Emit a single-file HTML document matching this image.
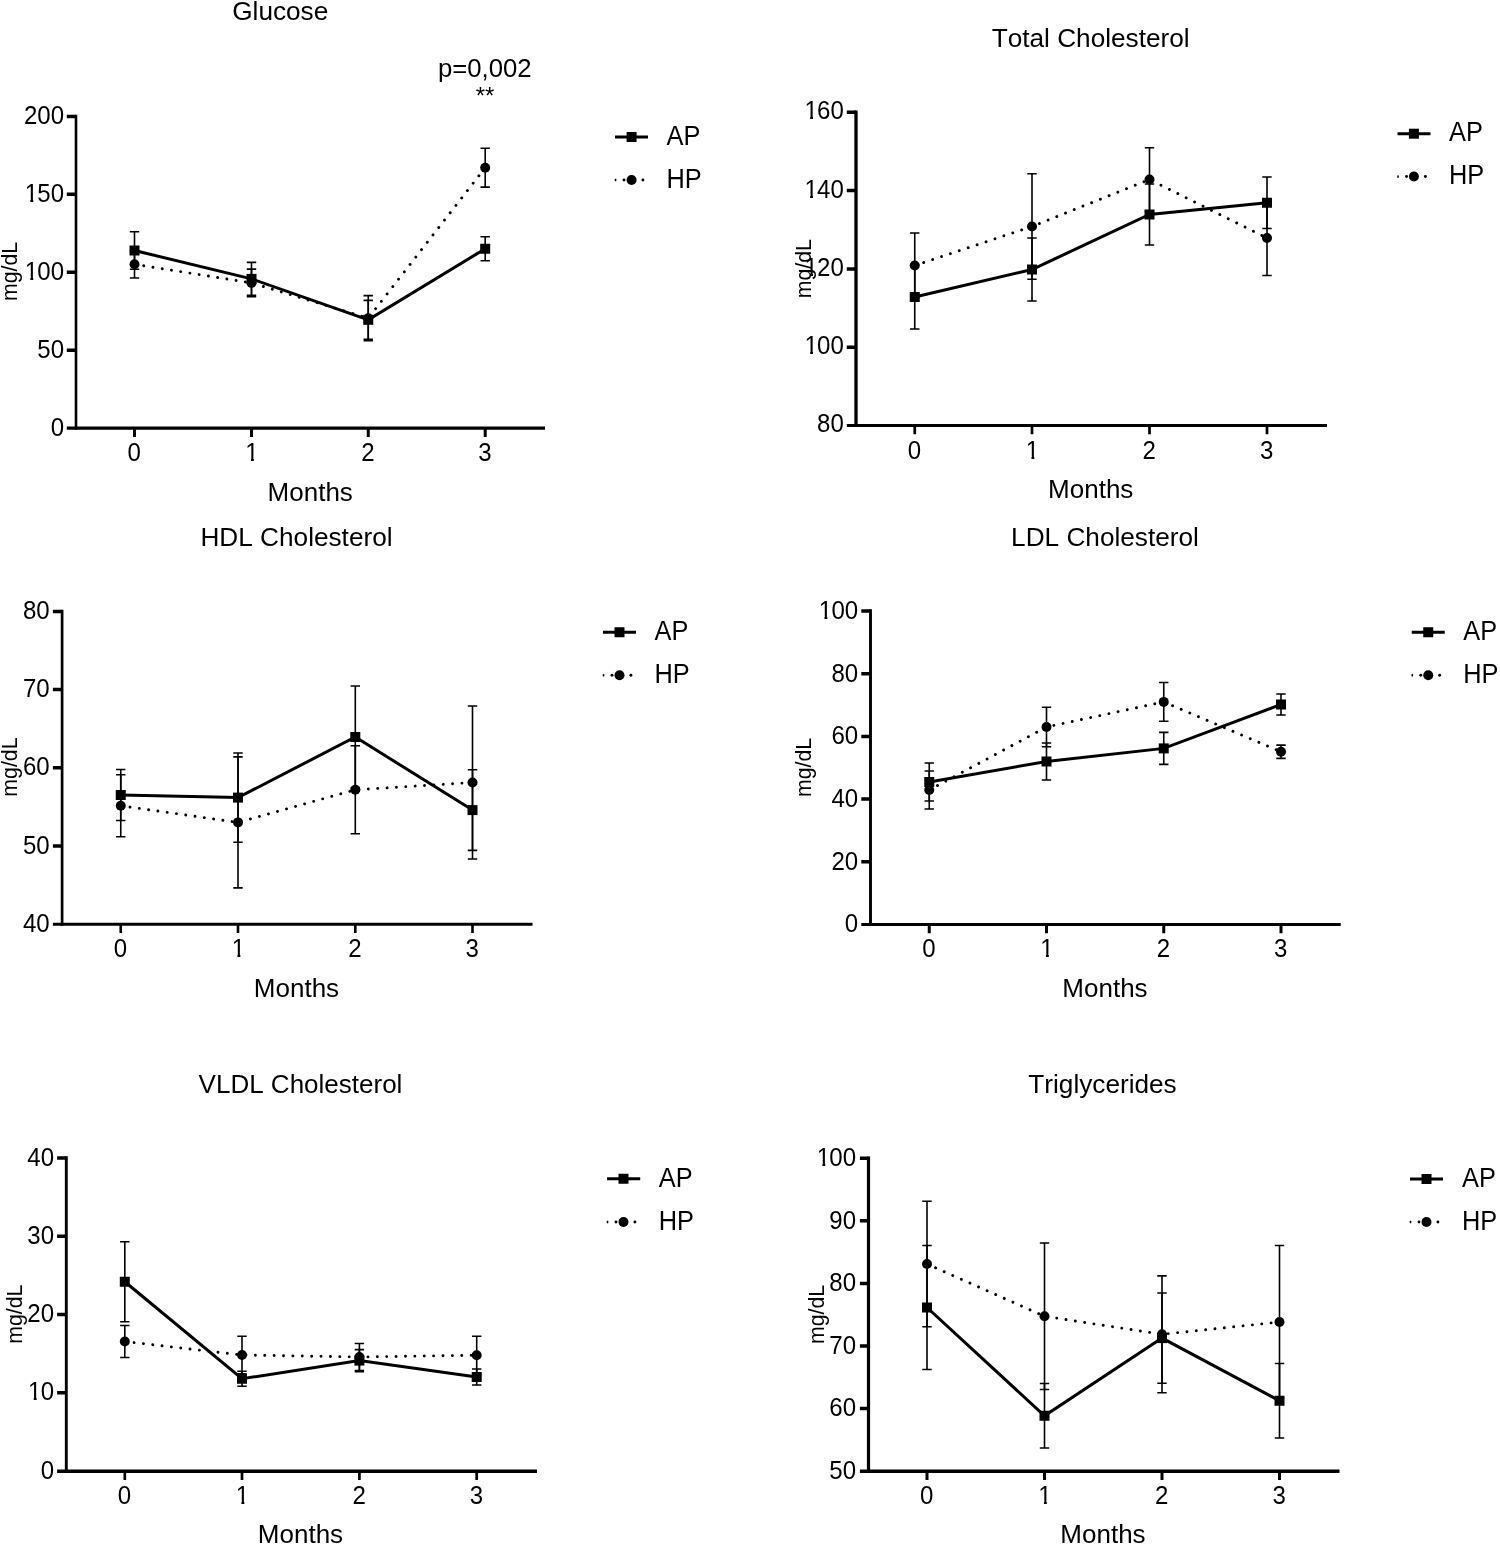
<!DOCTYPE html>
<html lang="en">
<head>
<meta charset="utf-8">
<title>Glucose and lipid profile over months</title>
<style>
html,body{margin:0;padding:0;background:#fff;}
body{width:1500px;height:1546px;overflow:hidden;}
svg{display:block;}
text{font-family:'Liberation Sans', Arial, Helvetica, sans-serif;fill:#000;font-kerning:none;}
.tt{font-size:26.2px;}
.at{font-size:26px;}
.tk{font-size:25px;}
.yl{font-size:21.3px;}
.lg{font-size:27.4px;}
.ax{stroke:#000;fill:none;}
.tkl{stroke:#000;fill:none;}
.ln{stroke:#000;stroke-width:3.0;fill:none;stroke-linejoin:miter;}
.dt{stroke:#000;stroke-width:2.9;fill:none;stroke-linecap:round;}
.eb{stroke:#000;stroke-width:1.6;fill:none;}
</style>
</head>
<body>
<svg width="1500" height="1546" viewBox="0 0 1500 1546">
<rect width="1500" height="1546" fill="#fff"/>
<defs>
<clipPath id="k3"><path clip-rule="evenodd" d="M-80-40H40V20H-80ZM-41.64 -2.62H-35.02V0.9H-41.64ZM-32.02 -2.62H-26.51V0.9H-32.02Z"/></clipPath>
<clipPath id="k2"><path clip-rule="evenodd" d="M-80-40H40V20H-80ZM-27.74 -2.62H-21.12V0.9H-27.74ZM-18.11 -2.62H-12.6V0.9H-18.11Z"/></clipPath>
<clipPath id="k1"><path clip-rule="evenodd" d="M-80-40H40V20H-80ZM-7.68 -2.62H-1.07V0.9H-7.68ZM1.94 -2.62H7.45V0.9H1.94Z"/></clipPath>
</defs>
<g aria-label="Glucose">
<path class="ax" stroke-width="2.6" d="M76 114.65V429.85"/>
<path class="ax" stroke-width="3.3" d="M66.8 428.2H545"/>
<path class="tkl" stroke-width="3.5" d="M66.8 350.2H76M66.8 272.2H76M66.8 194.3H76M66.8 116.4H76"/>
<path class="tkl" stroke-width="3.0" d="M134.5 428.2V437M251.5 428.2V437M368.25 428.2V437M485.2 428.2V437"/>
<text class="tk" text-anchor="end" transform="translate(64.05 435.6) scale(0.962 1)">0</text>
<text class="tk" text-anchor="end" transform="translate(64.05 357.6) scale(0.962 1)">50</text>
<text class="tk" clip-path="url(#k3)" text-anchor="end" transform="translate(64.05 279.6) scale(0.962 1)"><tspan x="-27.01">1</tspan><tspan x="0">00</tspan></text>
<text class="tk" clip-path="url(#k3)" text-anchor="end" transform="translate(64.05 201.7) scale(0.962 1)"><tspan x="-27.01">1</tspan><tspan x="0">50</tspan></text>
<text class="tk" text-anchor="end" transform="translate(64.05 123.8) scale(0.962 1)">200</text>
<text class="tk" text-anchor="middle" transform="translate(134.2 460.5) scale(0.962 1)">0</text>
<text class="tk" clip-path="url(#k1)" text-anchor="middle" transform="translate(251.97 460.5) scale(0.962 1)">1</text>
<text class="tk" text-anchor="middle" transform="translate(367.95 460.5) scale(0.962 1)">2</text>
<text class="tk" text-anchor="middle" transform="translate(484.9 460.5) scale(0.962 1)">3</text>
<text class="tt" text-anchor="middle" x="280.25" y="20">Glucose</text>
<text class="at" text-anchor="middle" x="310.25" y="500.5">Months</text>
<text class="yl" text-anchor="middle" transform="translate(17 271.5) rotate(-90)">mg/dL</text>
<text text-anchor="middle" font-size="26.6" transform="translate(484.8 76.5) scale(0.968 1)">p=0,002</text>
<text text-anchor="middle" font-size="24" transform="translate(485 104) scale(1 1)">**</text>
<path class="eb" d="M134.5 231.75V269.25M129.8 231.75H139.2M129.8 269.25H139.2"/>
<path class="eb" d="M251.5 262.4V295.4M246.8 262.4H256.2M246.8 295.4H256.2"/>
<path class="eb" d="M368.25 300.4V339.2M363.55 300.4H372.95M363.55 339.2H372.95"/>
<path class="eb" d="M485.2 236.75V260.75M480.5 236.75H489.9M480.5 260.75H489.9"/>
<path class="eb" d="M134.5 250.6V278M129.8 250.6H139.2M129.8 278H139.2"/>
<path class="eb" d="M251.5 269.1V296.7M246.8 269.1H256.2M246.8 296.7H256.2"/>
<path class="eb" d="M368.25 295.6V340.8M363.55 295.6H372.95M363.55 340.8H372.95"/>
<path class="eb" d="M485.2 148.3V187.1M480.5 148.3H489.9M480.5 187.1H489.9"/>
<polyline class="ln" points="134.5,250.5 251.5,278.9 368.25,319.8 485.2,248.75"/>
<polyline class="dt" stroke-dasharray="0.01 9.340" stroke-dashoffset="0" points="134.5,264.3 251.5,282.9 368.25,318.2 485.2,167.7"/>
<rect x="129.5" y="245.5" width="10" height="10"/>
<rect x="246.5" y="273.9" width="10" height="10"/>
<rect x="363.25" y="314.8" width="10" height="10"/>
<rect x="480.2" y="243.75" width="10" height="10"/>
<circle cx="134.5" cy="264.3" r="5"/>
<circle cx="251.5" cy="282.9" r="5"/>
<circle cx="368.25" cy="318.2" r="5"/>
<circle cx="485.2" cy="167.7" r="5"/>
<path class="ln" d="M615 137H648"/>
<rect x="626.6" y="132" width="10" height="10"/>
<rect x="614.8" y="178.65" width="1.5" height="2.7" rx="0.6"/>
<circle cx="624" cy="180" r="1.45"/>
<circle cx="642.9" cy="180" r="1.45"/>
<circle cx="631.6" cy="180" r="5"/>
<text class="lg" transform="translate(666.5 144.5) scale(0.926 1)">AP</text>
<text class="lg" transform="translate(666.5 188) scale(0.926 1)">HP</text>
</g>
<g aria-label="Total Cholesterol">
<path class="ax" stroke-width="3.3" d="M856 110.55V427"/>
<path class="ax" stroke-width="3.0" d="M846.8 425.5H1327"/>
<path class="tkl" stroke-width="3.5" d="M846.8 347.2H856M846.8 268.9H856M846.8 190.6H856M846.8 112.3H856"/>
<path class="tkl" stroke-width="2.7" d="M914.75 425.5V434.3M1032 425.5V434.3M1149.5 425.5V434.3M1267 425.5V434.3"/>
<text class="tk" text-anchor="end" transform="translate(843.8 432.4) scale(0.962 1)">80</text>
<text class="tk" clip-path="url(#k3)" text-anchor="end" transform="translate(843.8 354.1) scale(0.962 1)"><tspan x="-27.01">1</tspan><tspan x="0">00</tspan></text>
<text class="tk" clip-path="url(#k3)" text-anchor="end" transform="translate(843.8 275.8) scale(0.962 1)"><tspan x="-27.01">1</tspan><tspan x="0">20</tspan></text>
<text class="tk" clip-path="url(#k3)" text-anchor="end" transform="translate(843.8 197.5) scale(0.962 1)"><tspan x="-27.01">1</tspan><tspan x="0">40</tspan></text>
<text class="tk" clip-path="url(#k3)" text-anchor="end" transform="translate(843.8 119.2) scale(0.962 1)"><tspan x="-27.01">1</tspan><tspan x="0">60</tspan></text>
<text class="tk" text-anchor="middle" transform="translate(914.45 458.5) scale(0.962 1)">0</text>
<text class="tk" clip-path="url(#k1)" text-anchor="middle" transform="translate(1032.47 458.5) scale(0.962 1)">1</text>
<text class="tk" text-anchor="middle" transform="translate(1149.2 458.5) scale(0.962 1)">2</text>
<text class="tk" text-anchor="middle" transform="translate(1266.7 458.5) scale(0.962 1)">3</text>
<text class="tt" text-anchor="middle" x="1090.7" y="47.3">Total Cholesterol</text>
<text class="at" text-anchor="middle" x="1090.75" y="498">Months</text>
<text class="yl" text-anchor="middle" transform="translate(810.85 268.75) rotate(-90)">mg/dL</text>
<path class="eb" d="M914.75 265V329M910.05 265H919.45M910.05 329H919.45"/>
<path class="eb" d="M1032 238V301M1027.3 238H1036.7M1027.3 301H1036.7"/>
<path class="eb" d="M1149.5 184V245M1144.8 184H1154.2M1144.8 245H1154.2"/>
<path class="eb" d="M1267 177V228.5M1262.3 177H1271.7M1262.3 228.5H1271.7"/>
<path class="eb" d="M914.75 233V298M910.05 233H919.45M910.05 298H919.45"/>
<path class="eb" d="M1032 173.75V279.25M1027.3 173.75H1036.7M1027.3 279.25H1036.7"/>
<path class="eb" d="M1149.5 147.75V211.25M1144.8 147.75H1154.2M1144.8 211.25H1154.2"/>
<path class="eb" d="M1267 200.5V275.5M1262.3 200.5H1271.7M1262.3 275.5H1271.7"/>
<polyline class="ln" points="914.75,297 1032,269.5 1149.5,214.5 1267,202.75"/>
<polyline class="dt" stroke-dasharray="0.01 9.381" stroke-dashoffset="0" points="914.75,265.5 1032,226.5 1149.5,179.5 1267,238"/>
<rect x="909.75" y="292" width="10" height="10"/>
<rect x="1027" y="264.5" width="10" height="10"/>
<rect x="1144.5" y="209.5" width="10" height="10"/>
<rect x="1262" y="197.75" width="10" height="10"/>
<circle cx="914.75" cy="265.5" r="5"/>
<circle cx="1032" cy="226.5" r="5"/>
<circle cx="1149.5" cy="179.5" r="5"/>
<circle cx="1267" cy="238" r="5"/>
<path class="ln" d="M1397.5 133.7H1430.5"/>
<rect x="1408.9" y="128.7" width="10" height="10"/>
<rect x="1397.3" y="175.2" width="1.5" height="2.7" rx="0.6"/>
<circle cx="1406.5" cy="176.55" r="1.45"/>
<circle cx="1425.4" cy="176.55" r="1.45"/>
<circle cx="1413.9" cy="176.55" r="5"/>
<text class="lg" transform="translate(1449 141.3) scale(0.926 1)">AP</text>
<text class="lg" transform="translate(1449 184.4) scale(0.926 1)">HP</text>
</g>
<g aria-label="HDL Cholesterol">
<path class="ax" stroke-width="2.7" d="M62.1 609.65V925.75"/>
<path class="ax" stroke-width="3.0" d="M52.9 924.25H532.5"/>
<path class="tkl" stroke-width="3.5" d="M52.9 846H62.1M52.9 767.8H62.1M52.9 689.6H62.1M52.9 611.4H62.1"/>
<path class="tkl" stroke-width="2.6" d="M120.75 924.25V933.05M238 924.25V933.05M355.3 924.25V933.05M472.5 924.25V933.05"/>
<text class="tk" text-anchor="end" transform="translate(49.65 931.85) scale(0.962 1)">40</text>
<text class="tk" text-anchor="end" transform="translate(49.65 853.6) scale(0.962 1)">50</text>
<text class="tk" text-anchor="end" transform="translate(49.65 775.4) scale(0.962 1)">60</text>
<text class="tk" text-anchor="end" transform="translate(49.65 697.2) scale(0.962 1)">70</text>
<text class="tk" text-anchor="end" transform="translate(49.65 619) scale(0.962 1)">80</text>
<text class="tk" text-anchor="middle" transform="translate(120.45 956.5) scale(0.962 1)">0</text>
<text class="tk" clip-path="url(#k1)" text-anchor="middle" transform="translate(238.47 956.5) scale(0.962 1)">1</text>
<text class="tk" text-anchor="middle" transform="translate(355 956.5) scale(0.962 1)">2</text>
<text class="tk" text-anchor="middle" transform="translate(472.2 956.5) scale(0.962 1)">3</text>
<text class="tt" text-anchor="middle" x="296.5" y="546.25">HDL Cholesterol</text>
<text class="at" text-anchor="middle" x="296.5" y="997">Months</text>
<text class="yl" text-anchor="middle" transform="translate(17.07 767.1) rotate(-90)">mg/dL</text>
<path class="eb" d="M120.75 769.5V820.5M116.05 769.5H125.45M116.05 820.5H125.45"/>
<path class="eb" d="M238 753V842.2M233.3 753H242.7M233.3 842.2H242.7"/>
<path class="eb" d="M355.3 686V788M350.6 686H360M350.6 788H360"/>
<path class="eb" d="M472.5 769.8V850.4M467.8 769.8H477.2M467.8 850.4H477.2"/>
<path class="eb" d="M120.75 774.75V836.75M116.05 774.75H125.45M116.05 836.75H125.45"/>
<path class="eb" d="M238 756.9V887.9M233.3 756.9H242.7M233.3 887.9H242.7"/>
<path class="eb" d="M355.3 745.8V833.8M350.6 745.8H360M350.6 833.8H360"/>
<path class="eb" d="M472.5 706V859M467.8 706H477.2M467.8 859H477.2"/>
<polyline class="ln" points="120.75,795 238,797.6 355.3,737 472.5,810.1"/>
<polyline class="dt" stroke-dasharray="0.01 9.368" stroke-dashoffset="0" points="120.75,805.75 238,822.4 355.3,789.8 472.5,782.5"/>
<rect x="115.75" y="790" width="10" height="10"/>
<rect x="233" y="792.6" width="10" height="10"/>
<rect x="350.3" y="732" width="10" height="10"/>
<rect x="467.5" y="805.1" width="10" height="10"/>
<circle cx="120.75" cy="805.75" r="5"/>
<circle cx="238" cy="822.4" r="5"/>
<circle cx="355.3" cy="789.8" r="5"/>
<circle cx="472.5" cy="782.5" r="5"/>
<path class="ln" d="M603 632.25H636"/>
<rect x="614.5" y="627.25" width="10" height="10"/>
<rect x="602.8" y="673.9" width="1.5" height="2.7" rx="0.6"/>
<circle cx="612" cy="675.25" r="1.45"/>
<circle cx="630.9" cy="675.25" r="1.45"/>
<circle cx="619.5" cy="675.25" r="5"/>
<text class="lg" transform="translate(654.5 640) scale(0.926 1)">AP</text>
<text class="lg" transform="translate(654.5 683) scale(0.926 1)">HP</text>
</g>
<g aria-label="LDL Cholesterol">
<path class="ax" stroke-width="2.9" d="M870.5 609.25V925.9"/>
<path class="ax" stroke-width="3.0" d="M861.3 924.4H1340.75"/>
<path class="tkl" stroke-width="3.5" d="M861.3 861.7H870.5M861.3 799H870.5M861.3 736.4H870.5M861.3 673.7H870.5M861.3 611H870.5"/>
<path class="tkl" stroke-width="3.0" d="M929.25 924.4V933.2M1046.5 924.4V933.2M1163.75 924.4V933.2M1281 924.4V933.2"/>
<text class="tk" text-anchor="end" transform="translate(858.15 932.3) scale(0.962 1)">0</text>
<text class="tk" text-anchor="end" transform="translate(858.15 869.6) scale(0.962 1)">20</text>
<text class="tk" text-anchor="end" transform="translate(858.15 806.9) scale(0.962 1)">40</text>
<text class="tk" text-anchor="end" transform="translate(858.15 744.3) scale(0.962 1)">60</text>
<text class="tk" text-anchor="end" transform="translate(858.15 681.6) scale(0.962 1)">80</text>
<text class="tk" clip-path="url(#k3)" text-anchor="end" transform="translate(858.15 618.9) scale(0.962 1)"><tspan x="-27.01">1</tspan><tspan x="0">00</tspan></text>
<text class="tk" text-anchor="middle" transform="translate(928.95 956.5) scale(0.962 1)">0</text>
<text class="tk" clip-path="url(#k1)" text-anchor="middle" transform="translate(1046.97 956.5) scale(0.962 1)">1</text>
<text class="tk" text-anchor="middle" transform="translate(1163.45 956.5) scale(0.962 1)">2</text>
<text class="tk" text-anchor="middle" transform="translate(1280.7 956.5) scale(0.962 1)">3</text>
<text class="tt" text-anchor="middle" x="1105" y="546.25">LDL Cholesterol</text>
<text class="at" text-anchor="middle" x="1105" y="997">Months</text>
<text class="yl" text-anchor="middle" transform="translate(811.33 767.5) rotate(-90)">mg/dL</text>
<path class="eb" d="M929.25 763V801M924.55 763H933.95M924.55 801H933.95"/>
<path class="eb" d="M1046.5 743V780M1041.8 743H1051.2M1041.8 780H1051.2"/>
<path class="eb" d="M1163.75 732.4V764.4M1159.05 732.4H1168.45M1159.05 764.4H1168.45"/>
<path class="eb" d="M1281 694V715M1276.3 694H1285.7M1276.3 715H1285.7"/>
<path class="eb" d="M929.25 771V809M924.55 771H933.95M924.55 809H933.95"/>
<path class="eb" d="M1046.5 707.25V746.75M1041.8 707.25H1051.2M1041.8 746.75H1051.2"/>
<path class="eb" d="M1163.75 682.5V721.3M1159.05 682.5H1168.45M1159.05 721.3H1168.45"/>
<path class="eb" d="M1281 745.15V758.35M1276.3 745.15H1285.7M1276.3 758.35H1285.7"/>
<polyline class="ln" points="929.25,782 1046.5,761.5 1163.75,748.4 1281,704.5"/>
<polyline class="dt" stroke-dasharray="0.01 9.368" stroke-dashoffset="0" points="929.25,790 1046.5,727 1163.75,701.9 1281,751.75"/>
<rect x="924.25" y="777" width="10" height="10"/>
<rect x="1041.5" y="756.5" width="10" height="10"/>
<rect x="1158.75" y="743.4" width="10" height="10"/>
<rect x="1276" y="699.5" width="10" height="10"/>
<circle cx="929.25" cy="790" r="5"/>
<circle cx="1046.5" cy="727" r="5"/>
<circle cx="1163.75" cy="701.9" r="5"/>
<circle cx="1281" cy="751.75" r="5"/>
<path class="ln" d="M1411.75 632.25H1444.75"/>
<rect x="1423.25" y="627.25" width="10" height="10"/>
<rect x="1411.55" y="673.9" width="1.5" height="2.7" rx="0.6"/>
<circle cx="1420.75" cy="675.25" r="1.45"/>
<circle cx="1439.65" cy="675.25" r="1.45"/>
<circle cx="1428.25" cy="675.25" r="5"/>
<text class="lg" transform="translate(1463.25 640) scale(0.926 1)">AP</text>
<text class="lg" transform="translate(1463.25 683) scale(0.926 1)">HP</text>
</g>
<g aria-label="VLDL Cholesterol">
<path class="ax" stroke-width="2.9" d="M66.3 1156.25V1472.9"/>
<path class="ax" stroke-width="3.4" d="M57.1 1471.2H537"/>
<path class="tkl" stroke-width="3.5" d="M57.1 1392.8H66.3M57.1 1314.5H66.3M57.1 1236.2H66.3M57.1 1158H66.3"/>
<path class="tkl" stroke-width="2.7" d="M124.8 1471.2V1480M242 1471.2V1480M359.4 1471.2V1480M476.7 1471.2V1480"/>
<text class="tk" text-anchor="end" transform="translate(54.05 1478.8) scale(0.962 1)">0</text>
<text class="tk" clip-path="url(#k2)" text-anchor="end" transform="translate(54.05 1400.4) scale(0.962 1)"><tspan x="-13.1">1</tspan><tspan x="0">0</tspan></text>
<text class="tk" text-anchor="end" transform="translate(54.05 1322.1) scale(0.962 1)">20</text>
<text class="tk" text-anchor="end" transform="translate(54.05 1243.8) scale(0.962 1)">30</text>
<text class="tk" text-anchor="end" transform="translate(54.05 1165.6) scale(0.962 1)">40</text>
<text class="tk" text-anchor="middle" transform="translate(124.5 1503.5) scale(0.962 1)">0</text>
<text class="tk" clip-path="url(#k1)" text-anchor="middle" transform="translate(242.47 1503.5) scale(0.962 1)">1</text>
<text class="tk" text-anchor="middle" transform="translate(359.1 1503.5) scale(0.962 1)">2</text>
<text class="tk" text-anchor="middle" transform="translate(476.4 1503.5) scale(0.962 1)">3</text>
<text class="tt" style="font-size:26.0px" text-anchor="middle" x="300.5" y="1093">VLDL Cholesterol</text>
<text class="at" text-anchor="middle" x="300.5" y="1543">Months</text>
<text class="yl" text-anchor="middle" transform="translate(21.85 1314.15) rotate(-90)">mg/dL</text>
<path class="eb" d="M124.8 1241.75V1321.75M120.1 1241.75H129.5M120.1 1321.75H129.5"/>
<path class="eb" d="M242 1371.25V1386.25M237.3 1371.25H246.7M237.3 1386.25H246.7"/>
<path class="eb" d="M359.4 1349.6V1371.6M354.7 1349.6H364.1M354.7 1371.6H364.1"/>
<path class="eb" d="M476.7 1369V1385M472 1369H481.4M472 1385H481.4"/>
<path class="eb" d="M124.8 1325.5V1357.5M120.1 1325.5H129.5M120.1 1357.5H129.5"/>
<path class="eb" d="M242 1336.25V1373.75M237.3 1336.25H246.7M237.3 1373.75H246.7"/>
<path class="eb" d="M359.4 1343.5V1370.5M354.7 1343.5H364.1M354.7 1370.5H364.1"/>
<path class="eb" d="M476.7 1336.25V1374.25M472 1336.25H481.4M472 1374.25H481.4"/>
<polyline class="ln" points="124.8,1281.75 242,1378.75 359.4,1360.6 476.7,1377"/>
<polyline class="dt" stroke-dasharray="0.01 9.372" stroke-dashoffset="0" points="124.8,1341.5 242,1355 359.4,1357 476.7,1355.25"/>
<rect x="119.8" y="1276.75" width="10" height="10"/>
<rect x="237" y="1373.75" width="10" height="10"/>
<rect x="354.4" y="1355.6" width="10" height="10"/>
<rect x="471.7" y="1372" width="10" height="10"/>
<circle cx="124.8" cy="1341.5" r="5"/>
<circle cx="242" cy="1355" r="5"/>
<circle cx="359.4" cy="1357" r="5"/>
<circle cx="476.7" cy="1355.25" r="5"/>
<path class="ln" d="M607 1178.75H640.25"/>
<rect x="618.5" y="1173.75" width="10" height="10"/>
<rect x="606.8" y="1220.65" width="1.5" height="2.7" rx="0.6"/>
<circle cx="616" cy="1222" r="1.45"/>
<circle cx="634.9" cy="1222" r="1.45"/>
<circle cx="623.5" cy="1222" r="5"/>
<text class="lg" transform="translate(658.75 1186.75) scale(0.926 1)">AP</text>
<text class="lg" transform="translate(658.75 1229.5) scale(0.926 1)">HP</text>
</g>
<g aria-label="Triglycerides">
<path class="ax" stroke-width="3.2" d="M868.5 1156.45V1472.9"/>
<path class="ax" stroke-width="3.4" d="M859.9 1471.2H1339.5"/>
<path class="tkl" stroke-width="3.5" d="M859.9 1408.6H868.5M859.9 1345.9H868.5M859.9 1283.4H868.5M859.9 1220.8H868.5M859.9 1158.2H868.5"/>
<path class="tkl" stroke-width="3.0" d="M927 1471.2V1480M1044.5 1471.2V1480M1162 1471.2V1480M1279.5 1471.2V1480"/>
<text class="tk" text-anchor="end" transform="translate(856.05 1479) scale(0.962 1)">50</text>
<text class="tk" text-anchor="end" transform="translate(856.05 1416.4) scale(0.962 1)">60</text>
<text class="tk" text-anchor="end" transform="translate(856.05 1353.7) scale(0.962 1)">70</text>
<text class="tk" text-anchor="end" transform="translate(856.05 1291.2) scale(0.962 1)">80</text>
<text class="tk" text-anchor="end" transform="translate(856.05 1228.6) scale(0.962 1)">90</text>
<text class="tk" clip-path="url(#k3)" text-anchor="end" transform="translate(856.05 1166) scale(0.962 1)"><tspan x="-27.01">1</tspan><tspan x="0">00</tspan></text>
<text class="tk" text-anchor="middle" transform="translate(926.7 1503.6) scale(0.962 1)">0</text>
<text class="tk" clip-path="url(#k1)" text-anchor="middle" transform="translate(1044.97 1503.6) scale(0.962 1)">1</text>
<text class="tk" text-anchor="middle" transform="translate(1161.7 1503.6) scale(0.962 1)">2</text>
<text class="tk" text-anchor="middle" transform="translate(1279.2 1503.6) scale(0.962 1)">3</text>
<text class="tt" text-anchor="middle" x="1102.5" y="1093">Triglycerides</text>
<text class="at" text-anchor="middle" x="1103" y="1543">Months</text>
<text class="yl" text-anchor="middle" transform="translate(823.9 1314.4) rotate(-90)">mg/dL</text>
<path class="eb" d="M927 1245.5V1369.5M922.3 1245.5H931.7M922.3 1369.5H931.7"/>
<path class="eb" d="M1044.5 1383.5V1448M1039.8 1383.5H1049.2M1039.8 1448H1049.2"/>
<path class="eb" d="M1162 1293V1383.2M1157.3 1293H1166.7M1157.3 1383.2H1166.7"/>
<path class="eb" d="M1279.5 1363.5V1438M1274.8 1363.5H1284.2M1274.8 1438H1284.2"/>
<path class="eb" d="M927 1201.25V1326.75M922.3 1201.25H931.7M922.3 1326.75H931.7"/>
<path class="eb" d="M1044.5 1243V1389.5M1039.8 1243H1049.2M1039.8 1389.5H1049.2"/>
<path class="eb" d="M1162 1275.9V1392.7M1157.3 1275.9H1166.7M1157.3 1392.7H1166.7"/>
<path class="eb" d="M1279.5 1245.5V1398.5M1274.8 1245.5H1284.2M1274.8 1398.5H1284.2"/>
<polyline class="ln" points="927,1307.5 1044.5,1415.75 1162,1338.1 1279.5,1400.75"/>
<polyline class="dt" stroke-dasharray="0.01 9.388" stroke-dashoffset="0" points="927,1264 1044.5,1316.25 1162,1334.3 1279.5,1322"/>
<rect x="922" y="1302.5" width="10" height="10"/>
<rect x="1039.5" y="1410.75" width="10" height="10"/>
<rect x="1157" y="1333.1" width="10" height="10"/>
<rect x="1274.5" y="1395.75" width="10" height="10"/>
<circle cx="927" cy="1264" r="5"/>
<circle cx="1044.5" cy="1316.25" r="5"/>
<circle cx="1162" cy="1334.3" r="5"/>
<circle cx="1279.5" cy="1322" r="5"/>
<path class="ln" d="M1410 1179H1443"/>
<rect x="1421.5" y="1174" width="10" height="10"/>
<rect x="1409.8" y="1220.65" width="1.5" height="2.7" rx="0.6"/>
<circle cx="1419" cy="1222" r="1.45"/>
<circle cx="1437.9" cy="1222" r="1.45"/>
<circle cx="1426.5" cy="1222" r="5"/>
<text class="lg" transform="translate(1462 1186.75) scale(0.926 1)">AP</text>
<text class="lg" transform="translate(1462 1229.5) scale(0.926 1)">HP</text>
</g>
</svg>
</body>
</html>
